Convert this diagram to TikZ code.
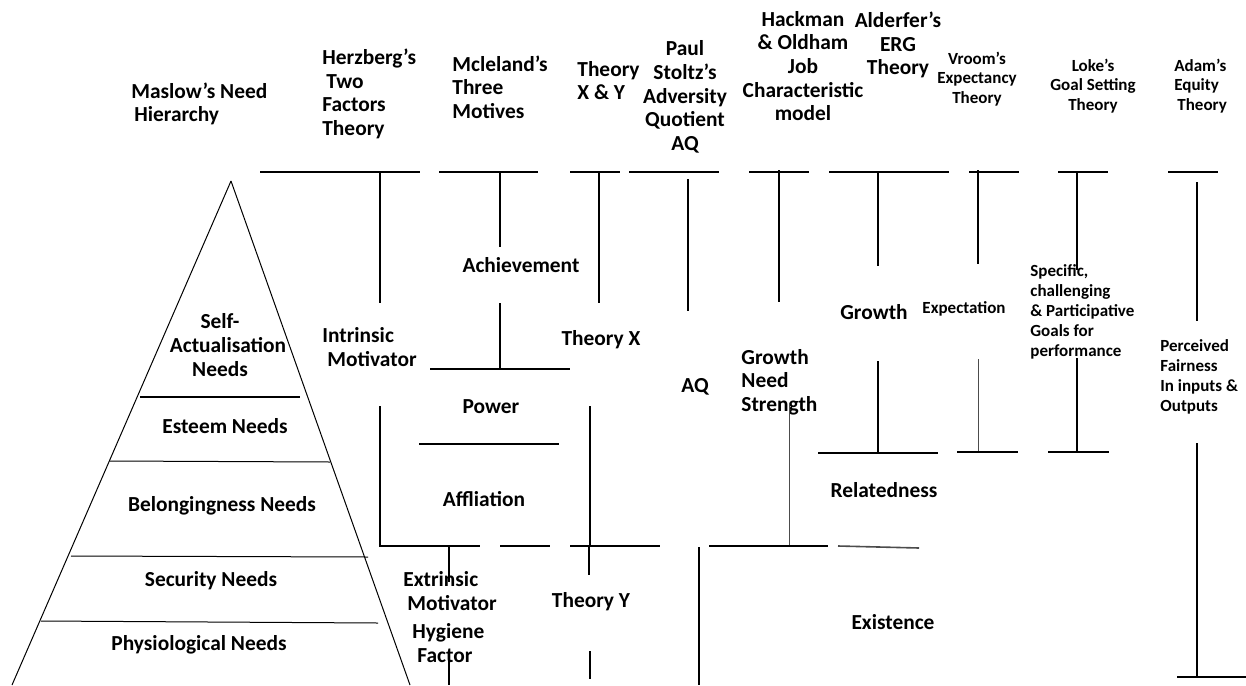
\documentclass[tikz,border=0pt]{standalone}
\usepackage{fontspec}
\setmainfont{Carlito}
\begin{document}
\begin{tikzpicture}[x=0.5pt,y=-0.5pt,
  big/.style={font=\bfseries\fontsize{10.7}{11.8}\selectfont, inner sep=0pt, align=left},
  bigc/.style={font=\bfseries\fontsize{10.7}{11.8}\selectfont, inner sep=0pt, align=center},
  small/.style={font=\bfseries\fontsize{8.5}{9.6}\selectfont, inner sep=0pt, align=left},
  smallc/.style={font=\bfseries\fontsize{8.5}{9.6}\selectfont, inner sep=0pt, align=center},
  thk/.style={line width=1pt},
  thn/.style={line width=0.5pt},
  gry/.style={line width=0.5pt, draw=black!70}]
\useasboundingbox (0,0) rectangle (1246,685);

% ---------- headers ----------
\node[big,anchor=west] (maslow) at (131,104) {Maslow’s Need\\\hspace{1.5pt}Hierarchy};
\node[big,anchor=west] (herz) at (322,94) {Herzberg’s\\\hspace{2pt}Two\\Factors\\Theory};
\node[big,anchor=west] (mcl) at (452,87) {Mcleland’s\\Three\\Motives};
\node[big,anchor=west] (txy) at (577,80.5) {Theory\\X \& Y};
\node[bigc] (paul) at (685,97) {Paul\\Stoltz’s\\Adversity\\Quotient\\AQ};
\node[bigc] (hack) at (803,66) {Hackman\\\& Oldham\\Job\\Characteristic\\model};
\node[bigc] (ald) at (898,45) {Alderfer’s\\ERG\\Theory};
\node[smallc] (vroom) at (977,79) {Vroom’s\\Expectancy\\Theory};
\node[smallc] (loke) at (1093,86) {Loke’s\\Goal Setting\\Theory};
\node[small,anchor=west] (adam) at (1174,86) {Adam’s\\Equity\\\hspace{1.5pt}Theory};

% ---------- pyramid ----------
\draw[thn] (231,181) -- (12,685);
\draw[thn] (231,181) -- (410,685);
\draw[thk] (140,397) -- (300,397);
\draw[thn] (110,461) -- (330,462);
\draw[thn] (71,556) -- (368,557);
\draw[thn] (41,621) -- (378,623);
\node[bigc] (self) at (228,345) {Self-\hspace*{8pt}\\Actualisation\\Needs\hspace*{8pt}};
\node[bigc] (est) at (225,426) {Esteem Needs};
\node[bigc] (bel) at (222,506) {Belongingness Needs};
\node[bigc] (sec) at (211,581) {Security Needs};
\node[bigc] (phy) at (199,645) {Physiological Needs};

% ---------- top bars ----------
\draw[thk] (260,172) -- (420,172);
\draw[thk] (439,172) -- (538,172);
\draw[thk] (570,172) -- (620,172);
\draw[thk] (629,172) -- (719,172);
\draw[thk] (749,172) -- (809,172);
\draw[thk] (829,172) -- (949,172);
\draw[thk] (969,172) -- (1019,172);
\draw[thk] (1058,172) -- (1108,172);
\draw[thk] (1168,172) -- (1218,172);

% ---------- top verticals ----------
\draw[thk] (380,172) -- (380,303);
\draw[thk] (500,172) -- (500,247);
\draw[thk] (599,172) -- (599,303);
\draw[thk] (688,179) -- (688,311);
\draw[thk] (779,170) -- (779,302);
\draw[thk] (878,172) -- (878,266);
\draw[thk] (978,170) -- (978,264);
\draw[thk] (1077,172) -- (1077,270);
\draw[thk] (1197,182) -- (1197,321);

% ---------- Herzberg ----------
\node[big,anchor=west] (intr) at (322,347) {Intrinsic\\\hspace{2.5pt}Motivator};
\draw[thk] (380,406) -- (380,546) -- (480,546);
\draw[thk] (449,546) -- (449,582);
\draw[thk] (449,660) -- (449,685);
\node[big,anchor=west] (extr) at (403,617) {Extrinsic\\\hspace{2pt}Motivator\\[2.5pt]\hspace{4.5pt}Hygiene\\\hspace{7pt}Factor};

% ---------- Mcleland ----------
\node[bigc] (ach) at (521,265) {Achievement};
\draw[thk] (500,303) -- (500,369);
\draw[thk] (430,369) -- (570,369);
\node[bigc] (pow) at (491,407) {Power};
\draw[thk] (419,444) -- (559,444);
\node[bigc] (aff) at (484,499) {Affliation};
\draw[thk] (500,546) -- (550,546);

% ---------- Theory X & Y ----------
\node[bigc] (tx) at (601,340) {Theory X};
\draw[thk] (590,406) -- (590,546);
\draw[thk] (570,546) -- (660,546);
\draw[thk] (589,546) -- (589,575);
\node[bigc] (ty) at (591,602) {Theory Y};
\draw[thk] (590,651) -- (590,679);

% ---------- AQ ----------
\node[bigc] (aq) at (695,387) {AQ};
\draw[thk] (699,547) -- (699,685);

% ---------- Hackman ----------
\node[big,anchor=west] (gns) at (741,382) {Growth\\Need\\Strength};
\draw[gry] (789,403) -- (789,546);
\draw[thk] (709,546) -- (828,546);

% ---------- Alderfer ----------
\node[bigc] (gro) at (874,312) {Growth};
\draw[thk] (878,361) -- (878,453);
\draw[thk] (818,453) -- (938,453);
\node[bigc] (rel) at (884,490) {Relatedness};
\draw[gry, line width=0.8pt] (838,546) -- (919,548);
\node[bigc] (exi) at (893,622) {Existence};

% ---------- Vroom ----------
\node[smallc] (expn) at (964,309) {Expectation};
\draw[gry] (978,359) -- (978,452);
\draw[thk] (957,452) -- (1018,452);

% ---------- Loke ----------
\node[small,anchor=west,font=\bfseries\fontsize{8.5}{10}\selectfont] (spec) at (1030,312) {Specific,\\challenging\\\& Participative\\Goals for\\performance};
\draw[thk] (1077,358) -- (1077,452);
\draw[thk] (1048,452) -- (1109,452);

% ---------- Adam ----------
\node[small,anchor=west,font=\bfseries\fontsize{8.5}{10}\selectfont] (perc) at (1160,377) {Perceived\\Fairness\\In inputs \&\\Outputs};
\draw[thk] (1197,443) -- (1197,677);
\draw[thk] (1177,677) -- (1246,677);
\end{tikzpicture}
\end{document}
